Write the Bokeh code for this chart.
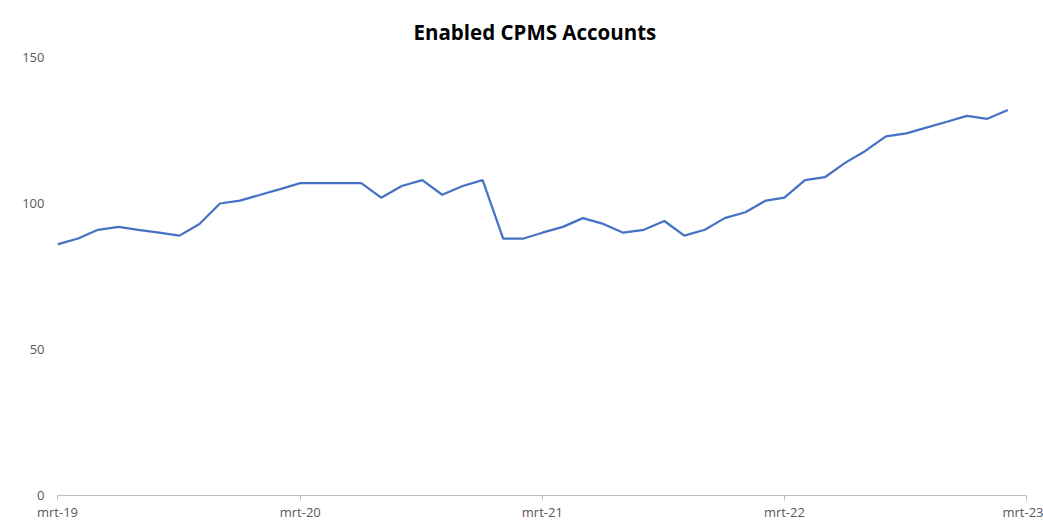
import pandas as pd
from bokeh.plotting import figure
from bokeh.models import Range1d, FixedTicker, CustomJSTickFormatter, ColumnDataSource
from bokeh.embed import file_html
from bokeh.resources import INLINE

title_text = "Enabled CPMS Accounts"
start_month = "2019-03-01"
accounts = [86, 88, 91, 92, 91, 90, 89, 93, 100, 101, 103, 105,
            107, 107, 107, 107, 102, 106, 108, 103, 106, 108, 88, 88,
            90, 92, 95, 93, 90, 91, 94, 89, 91, 95, 97, 101,
            102, 108, 109, 114, 118, 123, 124, 126, 128, 130, 129, 132]
tick_dates = ["2019-03-01", "2020-03-01", "2021-03-01", "2022-03-01", "2023-03-01"]
tick_labels = ["mrt-19", "mrt-20", "mrt-21", "mrt-22", "mrt-23"]
y_ticks = [0, 50, 100, 150]

months = pd.date_range(start_month, periods=len(accounts), freq="MS")
source = ColumnDataSource(data=dict(month=months, accounts=accounts))
tick_ms = [int(pd.Timestamp(d).value // 10**6) for d in tick_dates]

p = figure(width=1043, height=523, x_axis_type="datetime",
           output_backend="svg", toolbar_location=None,
           x_range=Range1d(pd.Timestamp(tick_dates[0]), pd.Timestamp(tick_dates[-1])),
           y_range=Range1d(0, 150),
           min_border_left=57, min_border_right=17, min_border_top=57, min_border_bottom=0)

p.title.text = title_text
p.title.align = "left"
p.title.text_font = "Open Sans"
p.title.text_font_style = "bold"
p.title.text_font_size = "20.5px"
p.title.text_color = "#000000"
p.title.offset = 356
p.title.standoff = 23

p.line("month", "accounts", source=source, line_color="#4472C4", line_width=2.25)

p.outline_line_color = None
p.xgrid.grid_line_color = None
p.ygrid.grid_line_color = None

p.xaxis.ticker = FixedTicker(ticks=tick_ms)
p.xaxis.formatter = CustomJSTickFormatter(args=dict(tick_pos=tick_ms, tick_names=tick_labels), code="""
const i = tick_pos.indexOf(tick);
return i >= 0 ? tick_names[i] : "";
""")
p.xaxis.axis_line_color = "#BFBFBF"
p.xaxis.major_tick_line_color = "#BFBFBF"
p.xaxis.major_tick_out = 5
p.xaxis.major_tick_in = 0
p.xaxis.minor_tick_line_color = None
p.xaxis.major_label_standoff = 2
p.xaxis.major_label_text_font = "Open Sans"
p.xaxis.major_label_text_font_size = "13px"
p.xaxis.major_label_text_color = "#595959"

p.yaxis.ticker = FixedTicker(ticks=y_ticks)
p.yaxis.axis_line_color = None
p.yaxis.major_tick_line_color = None
p.yaxis.minor_tick_line_color = None
p.yaxis.major_tick_out = 0
p.yaxis.major_tick_in = 0
p.yaxis.major_label_standoff = 13
p.yaxis.major_label_text_font = "Open Sans"
p.yaxis.major_label_text_font_size = "13px"
p.yaxis.major_label_text_color = "#595959"

open("out.html", "w").write(file_html(p, INLINE))
